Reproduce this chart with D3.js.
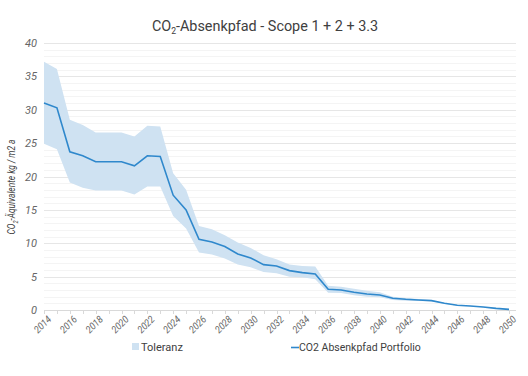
<!DOCTYPE html>
<html>
<head>
<meta charset="utf-8">
<script src="https://cdn.jsdelivr.net/npm/d3@7"></script>
<style>
  body { margin: 0; background: #fff; }
  svg text { font-family: "Roboto", sans-serif; }
</style>
</head>
<body>
<div id="chart"></div>
<script>

// years on the x axis
var years = d3.range(2014, 2051);

// CO2 path of the portfolio
var pfad = [31.0, 30.3, 23.7, 23.1, 22.2, 22.2, 22.2, 21.6, 23.1, 23.0,
            17.2, 15.0, 10.6, 10.2, 9.5, 8.4, 7.8, 6.8, 6.6, 5.9,
            5.6, 5.4, 3.1, 3.0, 2.65, 2.4, 2.25, 1.75, 1.6, 1.5,
            1.4, 1.0, 0.7, 0.6, 0.45, 0.25, 0.1];

// tolerance band, upper and lower edge
var tolOben = [37.2, 36.1, 28.5, 27.7, 26.6, 26.6, 26.6, 26.0, 27.6, 27.5,
               20.5, 18.0, 12.6, 12.1, 11.2, 10.1, 9.3, 8.2, 7.6, 6.8,
               6.6, 6.5, 3.65, 3.5, 3.2, 2.9, 2.65, 2.0, 1.8, 1.65,
               1.5, 1.05, 0.75, 0.65, 0.5, 0.3, 0.12];
var tolUnten = [24.9, 24.1, 19.1, 18.3, 17.9, 17.9, 17.9, 17.3, 18.5, 18.5,
                14.1, 12.2, 8.6, 8.3, 7.7, 6.8, 6.4, 5.7, 5.5, 5.0,
                4.9, 4.6, 2.6, 2.55, 2.2, 2.0, 1.9, 1.5, 1.4, 1.35,
                1.3, 0.95, 0.65, 0.55, 0.4, 0.2, 0.08];

var yTicks = [0, 5, 10, 15, 20, 25, 30, 35, 40];
var xTickYears = d3.range(2014, 2051, 2);

var width = 528, height = 376;
var plotLeft = 44, plotRight = 509, gridRight = 516, plotTop = 43, plotBottom = 310;

var svg = d3.select("#chart")
  .append("svg")
  .attr("width", width)
  .attr("height", height);

var x = d3.scaleLinear()
  .domain([2014, 2050])
  .range([plotLeft, plotRight]);

var y = d3.scaleLinear()
  .domain([0, 40])
  .range([plotBottom, plotTop]);

// minor gridlines every 1
svg.append("g")
  .selectAll("line")
  .data(d3.range(1, 41).filter(function (d) { return d % 5 != 0; }))
  .enter()
  .append("line")
  .attr("x1", plotLeft).attr("x2", gridRight)
  .attr("y1", function (d) { return Math.round(y(d)) + 0.5; })
  .attr("y2", function (d) { return Math.round(y(d)) + 0.5; })
  .attr("stroke", "#f4f4f4");

// major gridlines every 5
svg.append("g")
  .selectAll("line")
  .data(yTicks.slice(1))
  .enter()
  .append("line")
  .attr("x1", plotLeft).attr("x2", gridRight)
  .attr("y1", function (d) { return Math.round(y(d)) + 0.5; })
  .attr("y2", function (d) { return Math.round(y(d)) + 0.5; })
  .attr("stroke", "#e6e6e6");

var data = years.map(function (yr, i) {
  return {year: yr, v: pfad[i], hi: tolOben[i], lo: tolUnten[i]};
});

// tolerance band
svg.append("path")
  .datum(data)
  .attr("fill", "#cfe2f2")
  .attr("d", d3.area()
    .x(function (d) { return x(d.year); })
    .y0(function (d) { return y(d.lo); })
    .y1(function (d) { return y(d.hi); }));

// x axis line and ticks
svg.append("line")
  .attr("x1", plotLeft).attr("x2", gridRight)
  .attr("y1", plotBottom + 0.5).attr("y2", plotBottom + 0.5)
  .attr("stroke", "#d9d9d9");

svg.append("g")
  .selectAll("line")
  .data(years)
  .enter()
  .append("line")
  .attr("x1", function (d) { return Math.round(x(d)) + 0.5; })
  .attr("x2", function (d) { return Math.round(x(d)) + 0.5; })
  .attr("y1", plotBottom).attr("y2", plotBottom + 4)
  .attr("stroke", "#d9d9d9");

// path line
svg.append("path")
  .datum(data)
  .attr("fill", "none")
  .attr("stroke", "#2f88cc")
  .attr("stroke-width", 1.6)
  .attr("d", d3.line()
    .x(function (d) { return x(d.year); })
    .y(function (d) { return y(d.v); }));

// y tick labels
svg.append("g")
  .selectAll("text")
  .data(yTicks)
  .enter()
  .append("text")
  .attr("x", 37)
  .attr("y", function (d) { return y(d) + 4; })
  .attr("text-anchor", "end")
  .style("font-size", "11px")
  .style("font-style", "italic")
  .attr("fill", "#666")
  .text(function (d) { return d; });

// x tick labels, rotated
svg.append("g")
  .selectAll("text")
  .data(xTickYears)
  .enter()
  .append("text")
  .attr("transform", function (d) {
    return "translate(" + (x(d) + 3) + "," + (plotBottom + 5) + ") rotate(-45) scale(0.9,1)";
  })
  .attr("text-anchor", "end")
  .attr("dy", "0.7em")
  .style("font-size", "10px")
  .style("font-style", "italic")
  .attr("fill", "#666")
  .text(function (d) { return d; });

// y axis title (condensed)
var yt = svg.append("text")
  .attr("transform", "translate(15,187) rotate(-90) scale(0.8,1)")
  .attr("text-anchor", "middle")
  .style("font-size", "10.5px")
  .style("font-style", "italic")
  .attr("fill", "#404040");
yt.append("tspan").text("CO");
yt.append("tspan").attr("dy", 3).style("font-size", "7px").text("2");
yt.append("tspan").attr("dy", -3).text("-Äquivalente kg / m2 a");

// chart title
var title = svg.append("text")
  .attr("transform", "translate(265,31) scale(0.96,1)")
  .attr("text-anchor", "middle")
  .style("font-size", "15px")
  .attr("fill", "#404040");
title.append("tspan").text("CO");
title.append("tspan").attr("dy", 3).style("font-size", "9px").text("2");
title.append("tspan").attr("dy", -3).text("-Absenkpfad - Scope 1 + 2 + 3.3");

// legend
svg.append("rect")
  .attr("x", 132).attr("y", 343)
  .attr("width", 7).attr("height", 7)
  .attr("fill", "#cfe2f2");
svg.append("text")
  .attr("x", 141).attr("y", 351)
  .style("font-size", "11px")
  .attr("fill", "#404040")
  .text("Toleranz");

svg.append("line")
  .attr("x1", 291).attr("x2", 299)
  .attr("y1", 347.5).attr("y2", 347.5)
  .attr("stroke", "#2f88cc")
  .attr("stroke-width", 1.6);
svg.append("text")
  .attr("x", 299).attr("y", 351)
  .style("font-size", "10.5px")
  .attr("fill", "#404040")
  .text("CO2 Absenkpfad Portfolio");

</script>
</body>
</html>
